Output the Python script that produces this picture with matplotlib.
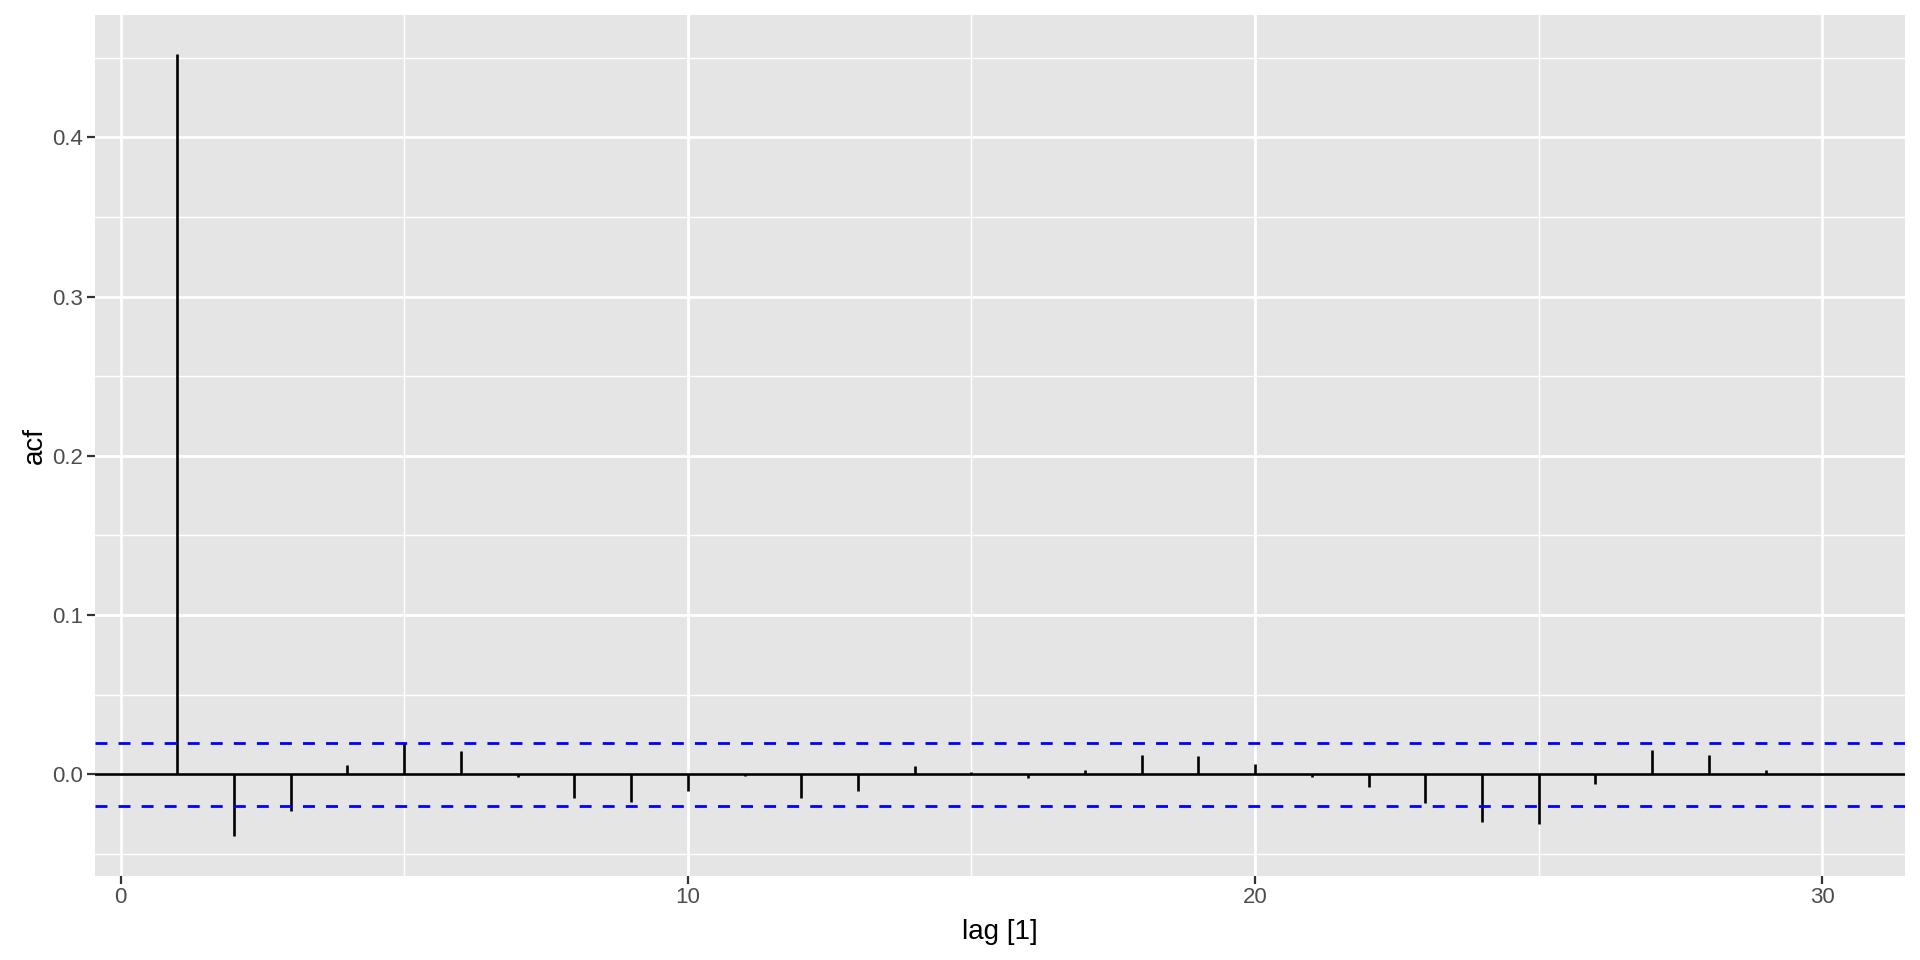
import matplotlib.pyplot as plt
import numpy as np

plt.rcParams['font.family'] = ['Liberation Sans', 'DejaVu Sans']

# ACF values, lags 1..30
lags = np.arange(1, 31)
acf = [0.452, -0.039, -0.0232, 0.0057, 0.0196, 0.0145, -0.0015, -0.0147, -0.0175, -0.0103,
       -0.0012, -0.0147, -0.0107, 0.0053, 0.0015, -0.0025, 0.003, 0.012, 0.0118, 0.0067,
       -0.0018, -0.008, -0.0181, -0.0299, -0.031, -0.0063, 0.015, 0.0122, 0.003, 0.0]
bound = 0.0198

x_ticks = [0, 10, 20, 30]
y_ticks = [0.0, 0.1, 0.2, 0.3, 0.4]

fig = plt.figure(figsize=(19.2, 9.6), dpi=100)
ax = fig.add_axes([0.0495, 0.088, 0.9425, 0.896])
ax.set_facecolor('#E5E5E5')

# ggplot-style expanded limits
xr = max(lags) - min(lags)
ax.set_xlim(min(lags) - 0.05 * xr, max(lags) + 0.05 * xr)
ymin, ymax = min(acf), max(acf)
yr = ymax - ymin
ax.set_ylim(ymin - 0.05 * yr, ymax + 0.05 * yr)

ax.set_xticks(x_ticks)
ax.set_xticklabels([str(t) for t in x_ticks])
ax.set_xticks([5, 15, 25], minor=True)
ax.set_yticks(y_ticks)
ax.set_yticklabels(['%.1f' % t for t in y_ticks])
ax.set_yticks([-0.05, 0.05, 0.15, 0.25, 0.35, 0.45], minor=True)

ax.grid(which='major', color='white', linewidth=2.0)
ax.grid(which='minor', color='white', linewidth=1.0)
ax.set_axisbelow(True)
for s in ax.spines.values():
    s.set_visible(False)

ax.tick_params(which='major', length=5.5, width=1.6, color='#333333',
               labelsize=16, labelcolor='#4D4D4D', pad=3)
ax.tick_params(which='minor', length=0)

ax.vlines(lags, 0, acf, colors='black', linewidth=1.9)
ax.axhline(0, color='black', linewidth=1.9)
ax.axhline(bound, color='blue', linewidth=2.0, linestyle=(0, (4.3, 4)))
ax.axhline(-bound, color='blue', linewidth=2.0, linestyle=(0, (4.3, 4)))

ax.set_xlabel('lag [1]', fontsize=20, color='black', labelpad=8)
ax.set_ylabel('acf', fontsize=20, color='black', labelpad=3)

fig.savefig('out.png', dpi=100, facecolor='white')
